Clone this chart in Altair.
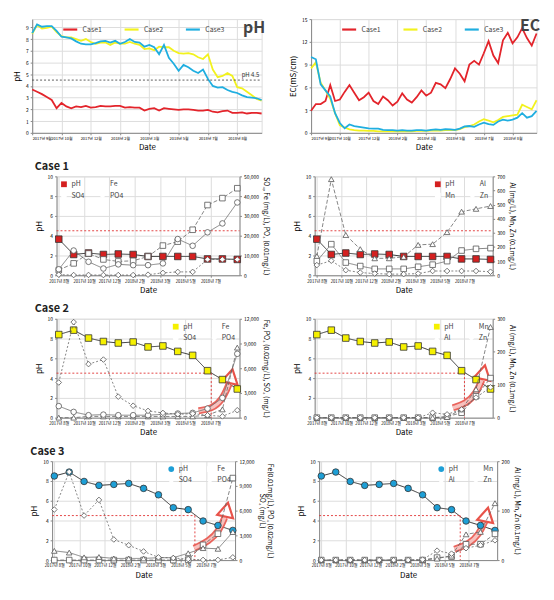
import altair as alt
import pandas as pd

FONT = "Noto Sans CJK KR"
RED, YELLOW, BLUE = "#E3242B", "#F2F21E", "#1FAEE0"
ARROW = "#E8534A"

# ---------------- top panels ----------------
TOP_TICKS = [0, 6, 12, 18, 24, 30, 36, 42]
TOP_LABELS = ["2017년 9월", "2017년 10월", "2017년 12월", "2018년 2월",
              "2018년 3월", "2018년 5월", "2018년 7월", "2018년 8월"]
CASES = ["Case1", "Case2", "Case3"]

PH_CASE1 = [3.7, 3.5, 3.3, 3.05, 2.8, 2.1, 2.55, 2.25, 2.1, 2.25, 2.2, 2.3, 2.15, 2.2, 2.3, 2.25,
            2.25, 2.3, 2.3, 2.15, 2.2, 2.15, 2.15, 1.9, 2.05, 2.1, 1.9, 2.1, 2.05, 2.0, 1.95, 2.0,
            2.0, 1.95, 1.9, 1.9, 1.95, 1.8, 1.75, 1.85, 1.9, 1.7, 1.7, 1.75, 1.65, 1.7, 1.7, 1.65]
PH_CASE2 = [8.45, 9.2, 8.9, 8.95, 9.05, 8.6, 8.25, 8.15, 8.15, 8.0, 7.85, 8.0, 7.75, 7.6, 7.7, 7.7,
            7.5, 7.7, 7.6, 7.6, 7.75, 7.6, 7.5, 7.15, 7.2, 7.05, 7.35, 7.3, 7.3, 7.0, 6.8, 6.75,
            6.8, 6.7, 6.45, 6.3, 6.7, 5.4, 4.75, 4.85, 5.1, 4.85, 3.9, 3.8, 3.5, 3.2, 2.9, 2.75]
PH_CASE3 = [8.5, 9.25, 9.05, 9.1, 9.1, 8.7, 8.2, 8.15, 8.05, 7.8, 7.6, 7.55, 7.55, 7.65, 7.8, 7.85,
            7.7, 7.85, 7.6, 7.75, 8.0, 7.75, 7.7, 7.35, 7.5, 7.3, 6.7, 7.5, 6.4, 5.9, 5.3, 5.8,
            5.6, 5.3, 5.1, 5.4, 4.6, 4.0, 3.85, 3.9, 3.65, 3.5, 3.4, 3.2, 3.05, 3.0, 2.95, 2.8]

EC_CASE1 = [2.9, 3.8, 3.8, 4.2, 6.3, 4.2, 4.4, 5.4, 6.3, 5.3, 4.3, 4.7, 5.3, 4.2, 3.8, 4.8,
            4.3, 3.6, 4.1, 5.2, 4.4, 4.0, 4.7, 5.6, 4.9, 5.3, 6.6, 6.4, 5.9, 7.1, 8.5, 7.8,
            6.8, 9.0, 9.5, 9.0, 10.5, 12.1, 10.2, 9.2, 12.2, 13.2, 11.8, 12.6, 13.8, 12.5, 11.5, 13.1]
EC_CASE2 = [8.5, 9.3, 6.6, 5.6, 4.5, 2.6, 1.0, 0.7, 0.45, 0.35, 0.3, 0.3, 0.25, 0.25, 0.2, 0.2,
            0.2, 0.2, 0.2, 0.2, 0.2, 0.2, 0.25, 0.25, 0.25, 0.3, 0.3, 0.3, 0.35, 0.35, 0.35, 0.5,
            0.75, 0.9, 1.1, 1.5, 1.8, 1.6, 1.4, 1.7, 2.1, 2.2, 2.3, 2.4, 3.7, 3.4, 3.1, 4.3]
EC_CASE3 = [10.0, 9.7, 6.4, 5.6, 4.8, 2.6, 1.3, 0.6, 1.1, 0.9, 0.8, 0.7, 0.6, 0.55, 0.55, 0.4,
            0.35, 0.35, 0.3, 0.35, 0.3, 0.3, 0.35, 0.35, 0.3, 0.4, 0.45, 0.4, 0.5, 0.45, 0.4, 0.55,
            0.85, 0.9, 0.8, 1.1, 1.35, 1.15, 1.05, 1.5, 1.75, 1.6, 1.75, 2.0, 2.6, 2.0, 2.2, 2.9]

# ---------------- case panels ----------------
CASE_TICKS = [0, 1.7, 3.4, 5.1, 6.8, 8.5, 10.2]
CASE_LABELS = ["2017년 8월", "2017년 10월", "2017년 12월", "2018년 2월",
               "2018년 3월", "2018년 5월", "2018년 7월"]

C1_PH = [3.65, 2.1, 2.25, 2.1, 2.15, 2.1, 1.9, 1.9, 1.9, 1.9, 1.65, 1.65, 1.6]
C1_FE = [2600, 6000, 11000, 8000, 7000, 7300, 9500, 15000, 17000, 23000, 35500, 39000, 44000]
C1_SO4 = [3000, 12500, 6800, 3400, 5500, 5100, 5100, 6000, 18300, 14900, 21700, 26200, 36800]
C1_PO4 = [300, 100, 150, 100, 100, 100, 300, 1200, 1700, 1700, 8000, 8000, 8000]
C1_AL = [135, 680, 285, 185, 120, 120, 130, 215, 220, 305, 450, 470, 490]
C1_MN = [100, 220, 90, 65, 45, 45, 45, 60, 75, 100, 175, 187, 192]
C1_ZN = [72, 103, 36, 19, 12, 8, 8, 12, 30, 30, 30, 30, 25]

C2_PH = [8.4, 8.85, 8.05, 7.7, 7.55, 7.65, 7.15, 7.25, 6.7, 6.3, 4.75, 3.85, 2.9]
C2_FE = [0, 0, 150, 150, 150, 150, 150, 150, 150, 150, 300, 1000, 8500]
C2_SO4 = [1400, 700, 300, 370, 300, 300, 300, 400, 500, 580, 1100, 2400, 7750]
C2_PO4 = [4270, 11600, 6500, 7050, 2550, 1450, 820, 575, 410, 490, 290, 160, 900]
C2_MN = [0, 0, 0, 0, 0, 0, 0, 0, 0, 3, 15, 65, 120]
C2_AL = [0, 0, 0, 0, 0, 0, 0, 0, 0, 2, 25, 86, 275]
C2_ZN = [0, 0, 0, 0, 0, 0, 0, 0, 15, 10, 25, 61, 92]

C3_PH = [8.5, 8.9, 7.95, 7.55, 7.65, 7.75, 7.25, 6.6, 5.3, 5.1, 3.95, 3.5, 3.0]
C3_FE = [0, 0, 0, 0, 0, 0, 0, 0, 0, 50, 1850, 3200, 9950]
C3_SO4 = [1120, 910, 330, 370, 200, 200, 200, 290, 290, 830, 1450, 1370, 3400]
C3_PO4 = [6130, 10700, 5400, 7300, 2500, 1800, 1050, 330, 250, 120, 20, 20, 330]
C3_MN = [0, 0, 0, 0, 0, 0, 0, 0, 5, 7, 32, 32, 53]
C3_AL = [0, 0, 0, 0, 0, 0, 0, 0, 3, 9, 52, 57, 115]
C3_ZN = [0, 0, 0, 0, 0, 0, 0, 1, 19, 13, 24, 30, 40]

PH_LIMIT = 4.5
THRESH_X = {"c1l": 12.15, "c1r": 12.15, "c2l": 10.25, "c2r": 10.2, "c3l": 9.45, "c3r": 9.6}

# arrow paths (sample index, pH units) and arrow heads
ARROWS = {
    "c2l": ([9.4, 10.3, 11.0, 11.45], [0.7, 0.9, 1.8, 3.4], (11.58, 4.2)),
    "c2r": ([9.4, 10.3, 11.0, 11.4], [1.0, 1.4, 2.4, 3.8], (11.52, 4.6)),
    "c3l": ([9.4, 10.4, 11.1, 11.45], [1.2, 1.9, 3.0, 4.3], (11.58, 5.1)),
    "c3r": ([9.2, 10.2, 10.9, 11.3], [1.1, 1.6, 2.6, 3.9], (11.42, 4.6)),
}


def label_expr(ticks, labels):
    t = ",".join(str(v) for v in ticks)
    l = ",".join("'" + s + "'" for s in labels)
    return f"[{l}][indexof([{t}], datum.value)]"


def long_df(series):
    rows = []
    for name, vals in series.items():
        for i, v in enumerate(vals):
            rows.append({"i": i, "s": name, "v": v})
    return pd.DataFrame(rows)


# ---------------- top charts ----------------
def top_chart(series, ytitle, ydom, yticks, big, limit=None, w=232):
    df = long_df(dict(zip(CASES, series)))
    xscale = alt.Scale(domain=[0, 47], nice=False, zero=False)
    xaxis = alt.Axis(values=TOP_TICKS, labelExpr=label_expr(TOP_TICKS, TOP_LABELS),
                     title="Date", labelFontSize=4, labelOverlap=False, titleFontSize=8,
                     titleFontWeight="normal", tickSize=2, labelPadding=2, titlePadding=3)
    yscale = alt.Scale(domain=ydom, nice=False)
    yaxis = alt.Axis(values=yticks, title=ytitle, labelFontSize=5, titleFontSize=8,
                     titleFontWeight="normal", tickSize=2, labelOverlap=False)

    def X(f):
        return alt.X(f, type="quantitative", scale=xscale, axis=xaxis)

    def Y(f):
        return alt.Y(f, type="quantitative", scale=yscale, axis=yaxis)

    lines = alt.Chart(df).mark_line(strokeWidth=1.8).encode(
        x=X("i"), y=Y("v"),
        color=alt.Color("s:N", scale=alt.Scale(domain=CASES, range=[RED, YELLOW, BLUE]),
                        legend=alt.Legend(title=None, orient="none", legendX=30, legendY=2,
                                          direction="horizontal", symbolType="stroke",
                                          symbolStrokeWidth=2.2, symbolSize=200,
                                          labelFontSize=7, columnPadding=18, labelFont=FONT,
                                          labelColor="#444")),
    )
    layers = [lines]
    if limit is not None:
        ldf = pd.DataFrame({"i": [0], "i2": [47], "v": [limit]})
        tdf = pd.DataFrame({"i": [46.5], "v": [limit], "t": ["pH 4.5"]})
        layers.append(alt.Chart(ldf).mark_rule(strokeDash=[2, 2], color="#333", strokeWidth=0.8)
                      .encode(x=X("i"), x2="i2:Q", y=Y("v")))
        layers.append(alt.Chart(tdf).mark_text(align="right", dy=-5, fontSize=6, font=FONT, color="#333")
                      .encode(x=X("i"), y=Y("v"), text="t:N"))
    return alt.layer(*layers).properties(
        width=w, height=115,
        title=alt.TitleParams(big, anchor="end", fontSize=16, fontWeight="bold", color="#444",
                              offset=-17, font=FONT))


top_ph = top_chart([PH_CASE1, PH_CASE2, PH_CASE3], "pH", [0, 9.7], list(range(10)), "pH", PH_LIMIT)
top_ec = top_chart([EC_CASE1, EC_CASE2, EC_CASE3], "EC(mS/cm)", [0, 15], [0, 3, 6, 9, 12, 15], "EC", None, w=228)


# ---------------- case panels ----------------
def case_panel(key, ph, others, order, shapes, dashes, ph_color, y2_dom, y2_ticks, y2_title,
               leg_orient, w=185):
    xaxis = alt.Axis(values=CASE_TICKS, labelExpr=label_expr(CASE_TICKS, CASE_LABELS), title="Date",
                     labelFontSize=4.2, labelOverlap=False, titleFontSize=8, titleFontWeight="normal",
                     tickSize=2, labelPadding=2, titlePadding=3)
    xscale = alt.Scale(domain=[-0.15, 12.15], nice=False, zero=False)

    def X(f):
        return alt.X(f, type="quantitative", scale=xscale, axis=xaxis)

    ph_axis = alt.Axis(values=[0, 2, 4, 6, 8, 10], title="pH", labelFontSize=5, titleFontSize=8,
                       titleFontWeight="normal", tickSize=2, labelOverlap=False)
    ph_scale = alt.Scale(domain=[0, 10], nice=False)

    def Y(f):
        return alt.Y(f, type="quantitative", scale=ph_scale, axis=ph_axis)

    # legend fills column by column: reorder so that it reads row by row
    dom = [order[0], order[2], order[1], order[3]]
    sh = dict(zip(order, shapes))
    da = dict(zip(order, dashes))
    fill_range = [ph_color if s == "pH" else "white" for s in dom]
    leg = alt.Legend(title=None, orient=leg_orient, columns=2, labelFontSize=7, symbolSize=34,
                     symbolStrokeColor="#444", symbolStrokeWidth=0.8, rowPadding=1,
                     columnPadding=12, labelFont=FONT, offset=4, labelColor="#444")
    fill = alt.Fill("s:N", scale=alt.Scale(domain=dom, range=fill_range), legend=leg)
    shape = alt.Shape("s:N", scale=alt.Scale(domain=dom, range=[sh[s] for s in dom]), legend=leg)
    sdash = alt.StrokeDash("s:N", scale=alt.Scale(domain=dom, range=[da[s] for s in dom]), legend=leg)

    dfp = long_df({"pH": ph})
    dfo = long_df(others)

    ph_line = alt.Chart(dfp).mark_line(color="#333", strokeWidth=1).encode(x=X("i"), y=Y("v"), strokeDash=sdash)
    ph_pts = alt.Chart(dfp).mark_point(filled=True, size=44, stroke="#333", strokeWidth=0.8, opacity=1).encode(
        x=X("i"), y=Y("v"), fill=fill, shape=shape)

    tx = THRESH_X[key]
    hdf = pd.DataFrame({"i": [-0.15], "i2": [tx], "v": [PH_LIMIT]})
    left_layers = [ph_line]
    left_layers.append(alt.Chart(hdf).mark_rule(color="#E03030", strokeDash=[2, 2], strokeWidth=0.9)
                       .encode(x=X("i"), x2="i2:Q", y=Y("v")))
    if tx < 12:
        vdf = pd.DataFrame({"i": [tx], "v": [PH_LIMIT], "v0": [0]})
        left_layers.append(alt.Chart(vdf).mark_rule(color="#E03030", strokeDash=[2, 2], strokeWidth=0.9)
                           .encode(x=X("i"), y=Y("v"), y2="v0:Q"))
    if key in ARROWS:
        ax, ay, head = ARROWS[key]
        adf = pd.DataFrame({"i": ax, "v": ay})
        left_layers.append(alt.Chart(adf).mark_line(color=ARROW, strokeWidth=7, interpolate="basis",
                                                    strokeCap="butt", opacity=0.9)
                           .encode(x=X("i"), y=Y("v")))
        left_layers.append(alt.Chart(adf).mark_line(color="white", strokeWidth=3.5, interpolate="basis",
                                                    strokeCap="butt", opacity=0.6)
                           .encode(x=X("i"), y=Y("v")))
        hd = pd.DataFrame({"i": [head[0]], "v": [head[1]]})
        left_layers.append(alt.Chart(hd).mark_point(shape="triangle-up", size=270, angle=12, filled=False,
                                                    color=ARROW, strokeWidth=2.2, opacity=1,
                                                    fill="white", fillOpacity=0.6)
                           .encode(x=X("i"), y=Y("v")))
    left_layers.append(ph_pts)
    left = alt.layer(*left_layers)

    y2_axis = alt.Axis(values=y2_ticks, title=y2_title, orient="right", labelFontSize=5,
                       titleFontSize=7, titleFontWeight="normal", tickSize=2, labelOverlap=False)
    y2 = alt.Y("v:Q", scale=alt.Scale(domain=y2_dom, nice=False), axis=y2_axis)
    o_line = alt.Chart(dfo).mark_line(color="#666", strokeWidth=0.8).encode(
        x=X("i"), y=y2, strokeDash=sdash, detail="s:N")
    o_pts = alt.Chart(dfo).mark_point(filled=True, size=32, stroke="#555", strokeWidth=0.8, opacity=1).encode(
        x=X("i"), y=y2, fill=fill, shape=shape)
    right = alt.layer(o_line, o_pts)

    return alt.layer(left, right).resolve_scale(y="independent").properties(width=w, height=100)


SQ, CI, TR, DI = "square", "circle", "triangle-up", "diamond"
SOLID, DASH, DASH2 = [1, 0], [4, 2], [2, 2]

c1l = case_panel("c1l", C1_PH, {"Fe": C1_FE, "SO4": C1_SO4, "PO4": C1_PO4},
                 ["pH", "Fe", "SO4", "PO4"], [SQ, SQ, CI, DI], [SOLID, DASH, SOLID, DASH2],
                 "#D42020", [0, 50000], [0, 10000, 20000, 30000, 40000, 50000],
                 "SO₄, Fe (mg/L), PO₄ (0.01mg/L)", "top-left")
c1r = case_panel("c1r", C1_PH, {"Al": C1_AL, "Mn": C1_MN, "Zn": C1_ZN},
                 ["pH", "Al", "Mn", "Zn"], [SQ, TR, SQ, DI], [SOLID, DASH, SOLID, DASH2],
                 "#D42020", [0, 700], [0, 100, 200, 300, 400, 500, 600, 700],
                 "Al (mg/L), Mn, Zn (0.1mg/L)", "top-right", w=180)
c2l = case_panel("c2l", C2_PH, {"Fe": C2_FE, "SO4": C2_SO4, "PO4": C2_PO4},
                 ["pH", "Fe", "SO4", "PO4"], [SQ, TR, CI, DI], [SOLID, DASH, SOLID, DASH2],
                 "#F5F000", [0, 12000], [0, 3000, 6000, 9000, 12000],
                 "Fe, PO₄ (0.02mg/L), SO₄ (mg/L)", "top-right")
c2r = case_panel("c2r", C2_PH, {"Mn": C2_MN, "Al": C2_AL, "Zn": C2_ZN},
                 ["pH", "Mn", "Al", "Zn"], [SQ, SQ, TR, DI], [SOLID, DASH, DASH, DASH2],
                 "#F5F000", [0, 300], [0, 100, 200, 300],
                 "Al (mg/L), Mn, Zn (0.1mg/L)", "top-right", w=180)
c3l = case_panel("c3l", C3_PH, {"Fe": C3_FE, "SO4": C3_SO4, "PO4": C3_PO4},
                 ["pH", "Fe", "SO4", "PO4"], [CI, SQ, TR, DI], [SOLID, DASH, SOLID, DASH2],
                 "#1E9FD6", [0, 12000], [0, 3000, 6000, 9000, 12000],
                 ["Fe(0.01mg/L), PO₄ (0.02mg/L)", "SO₄ (mg/L)"], "top-right")
c3r = case_panel("c3r", C3_PH, {"Mn": C3_MN, "Al": C3_AL, "Zn": C3_ZN},
                 ["pH", "Mn", "Al", "Zn"], [CI, SQ, TR, DI], [SOLID, DASH, DASH, DASH2],
                 "#1E9FD6", [0, 200], [0, 100, 200],
                 "Al (mg/L), Mn, Zn (0.1mg/L)", "top-right", w=180)

IND = dict(fill="independent", shape="independent", strokeDash="independent", color="independent")


def case_row(a, b, name):
    return alt.hconcat(a, b, spacing=22).resolve_scale(**IND).resolve_legend(**IND).properties(
        title=alt.TitleParams(name, anchor="start", fontSize=11, fontWeight="bold", color="#222",
                              font=FONT, offset=2))


top = alt.hconcat(top_ph, top_ec, spacing=22).resolve_scale(color="independent")
chart = alt.vconcat(top,
                    case_row(c1l, c1r, "Case 1"),
                    case_row(c2l, c2r, "Case 2"),
                    case_row(c3l, c3r, "Case 3"),
                    spacing=8, center=True).resolve_scale(**IND).resolve_legend(**IND).configure_view(
    stroke=None).configure_axis(
    labelFont=FONT, titleFont=FONT, labelColor="#555", titleColor="#555",
    domainColor="#888", tickColor="#888", grid=False).configure_legend(labelFont=FONT).configure(
    font=FONT)

chart.save("out.html", embed_options={"renderer": "svg", "actions": False})
